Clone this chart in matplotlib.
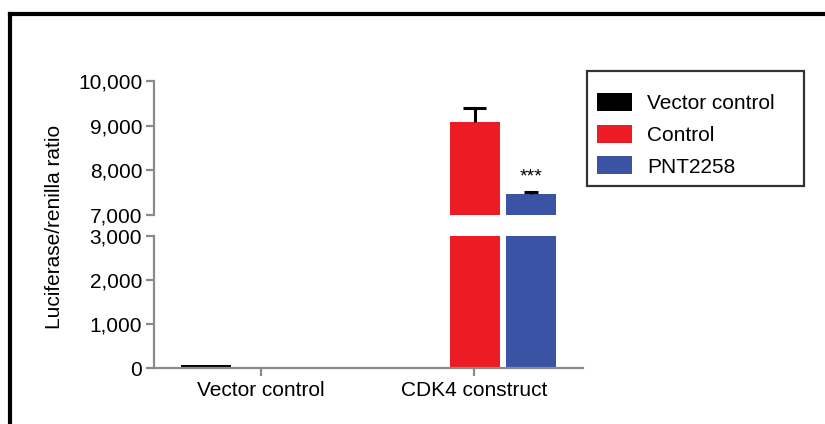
import matplotlib
matplotlib.use("Agg")
import matplotlib.pyplot as plt
from matplotlib.lines import Line2D
from matplotlib.patches import Patch
import numpy as np

plt.rcParams['font.family'] = ['Liberation Sans', 'DejaVu Sans']

groups = ["Vector control", "CDK4 construct"]
series = ["Vector control", "Control", "PNT2258"]
colors = ["#000000", "#ED1C24", "#3A53A4"]
values = {
    "Vector control": [70, 0],
    "Control": [0, 9090],
    "PNT2258": [0, 7460],
}
errors = {
    "Vector control": [0, 0],
    "Control": [0, 300],
    "PNT2258": [0, 65],
}
cap_widths = {"Vector control": 0.0, "Control": 0.108, "PNT2258": 0.065}
upper_ylim = (7000, 10000)
lower_ylim = (0, 3000)
upper_ticks = [7000, 8000, 9000, 10000]
lower_ticks = [0, 1000, 2000, 3000]
sig_label = "***"

W, H = 825, 424
fig = plt.figure(figsize=(W / 100, H / 100), dpi=100)

left = 154 / W
width = (583 - 154) / W
ax_top = fig.add_axes([left, 1 - 215 / H, width, (215 - 81) / H])
ax_bot = fig.add_axes([left, 1 - 368 / H, width, (368 - 236) / H])

axis_color = "#8a8a8a"
x = np.arange(len(groups))
off = 0.262
bw = 0.235
fs = 15

for ax in (ax_top, ax_bot):
    for i, s in enumerate(series):
        xs = x + (i - 1) * off + 0.004
        ax.bar(xs, values[s], width=bw, color=colors[i], edgecolor='none', zorder=2)
        v = np.array(values[s], dtype=float)
        e = np.array(errors[s], dtype=float)
        m = e > 0
        if m.any():
            ax.vlines(xs[m], v[m], v[m] + e[m], colors='black', linewidth=2.2, zorder=3)
            ax.hlines(v[m] + e[m], xs[m] - cap_widths[s] / 2, xs[m] + cap_widths[s] / 2,
                      colors='black', linewidth=2.2, zorder=3)
    ax.set_xlim(-0.502, 1.512)
    for sp in ('top', 'right'):
        ax.spines[sp].set_visible(False)
    for sp in ('left', 'bottom'):
        ax.spines[sp].set_color(axis_color)
        ax.spines[sp].set_linewidth(1.6)
    ax.tick_params(axis='both', colors=axis_color, width=1.6, length=5.5,
                   labelsize=fs, labelcolor='black', pad=3)
    ax.set_facecolor('none')

ax_top.set_ylim(*upper_ylim)
ax_top.set_yticks(upper_ticks)
ax_top.set_yticklabels([f"{t:,}" for t in upper_ticks])
ax_top.spines['bottom'].set_visible(False)
ax_top.set_xticks([])

ax_bot.set_ylim(*lower_ylim)
ax_bot.set_yticks(lower_ticks)
ax_bot.set_yticklabels([f"{t:,}" for t in lower_ticks])
ax_bot.set_xticks(x)
ax_bot.set_xticklabels(groups)
ax_bot.tick_params(axis='x', pad=4)

# significance marker
bi = series.index("PNT2258")
ax_top.text(x[1] + (bi - 1) * off + 0.004,
            values["PNT2258"][1] + errors["PNT2258"][1] + 330,
            sig_label, ha='center', va='center', fontsize=14)

fig.text(54 / W, 1 - 226.5 / H, "Luciferase/renilla ratio", rotation=90,
         ha='center', va='center', fontsize=fs)

handles = [Patch(facecolor=c, edgecolor='none') for c in colors]
leg = fig.legend(handles, series, loc='upper left', mode='expand',
                 bbox_to_anchor=(587 / W, 1 - 185 / H, (804 - 587) / W, (185 - 71) / H),
                 bbox_transform=fig.transFigure,
                 fontsize=fs, frameon=True, fancybox=False, edgecolor='black',
                 handlelength=1.68, handleheight=0.95, handletextpad=0.72,
                 labelspacing=0.55, borderpad=0.47, borderaxespad=0,
                 title=" ", title_fontsize=1)
leg.get_frame().set_linewidth(1.6)

# outer frame (top and left)
fig.add_artist(Line2D([10 / W, 1.0], [1 - 14 / H, 1 - 14 / H], color='black',
                      linewidth=3, transform=fig.transFigure))
fig.add_artist(Line2D([10 / W, 10 / W], [1 - 14 / H, 0], color='black',
                      linewidth=3, transform=fig.transFigure))

fig.savefig("out.png", dpi=100)
